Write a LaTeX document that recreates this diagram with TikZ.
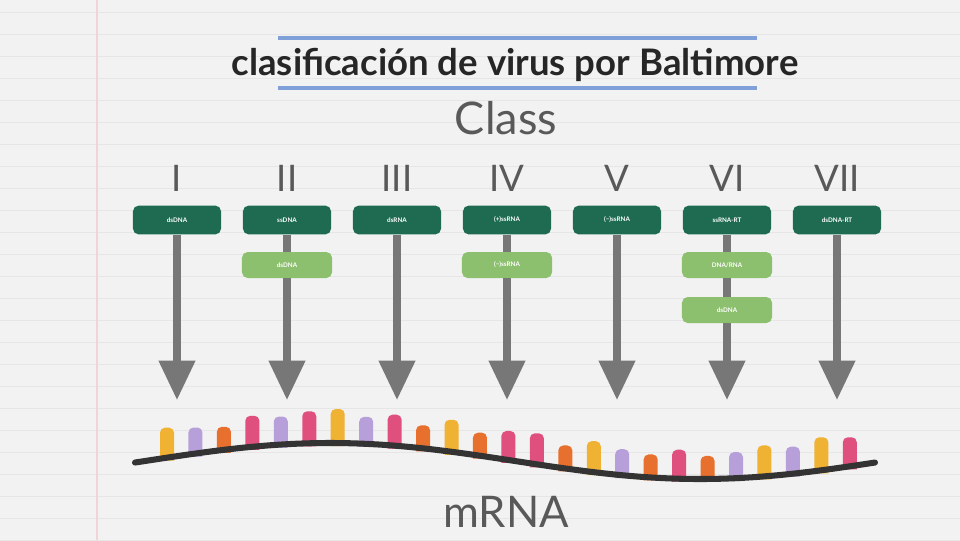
\documentclass[tikz,border=0pt]{standalone}
\usepackage{fontspec}
\setmainfont{Lato}
\usetikzlibrary{positioning,arrows.meta}
\definecolor{PaperBg}{HTML}{F2F2F2}
\definecolor{RuleLine}{HTML}{E6E6E6}
\definecolor{MarginRed}{HTML}{F0D4D6}
\definecolor{TitleBlue}{HTML}{7FA0D8}
\definecolor{LabelGray}{HTML}{595959}
\definecolor{ArrowGray}{HTML}{777777}
\definecolor{BoxDark}{HTML}{1F6B52}
\definecolor{BoxLight}{HTML}{8CBF6E}
\definecolor{BaseYel}{HTML}{F0B232}
\definecolor{BaseLav}{HTML}{B7A0DA}
\definecolor{BaseOrg}{HTML}{E8702E}
\definecolor{BasePnk}{HTML}{E0507E}
\definecolor{Strand}{HTML}{333333}
\tikzset{
  numeral/.style={text=LabelGray,font=\fontsize{26}{26}\selectfont},
  darkbox/.style={fill=BoxDark,rounded corners=4pt,minimum width=2.2cm,minimum height=0.72cm,inner sep=0pt,text=white,font=\bfseries\fontsize{4.5}{5}\selectfont},
  lightbox/.style={darkbox,fill=BoxLight,minimum width=2.25cm,minimum height=0.65cm},
  flow/.style={draw=ArrowGray,line width=5pt,-{Triangle[width=25pt,length=28pt]}},
  shaft/.style={draw=ArrowGray,line width=5pt}
}
\newcommand{\nucbase}[3]{\fill[#2,rounded corners=3.5pt] (#1-7,#3+3) -- (#1-7,#3-\bh) -- (#1+7,#3-\bh) -- (#1+7,#3+3);}

\begin{document}
\begin{tikzpicture}[x=0.025cm,y=-0.025cm]
  \useasboundingbox (0,0) rectangle (960,540);
  % notebook paper
  \fill[PaperBg] (0,0) rectangle (960,540);
  \foreach \ly in {12,34,...,540} \draw[RuleLine,line width=0.6pt] (0,\ly) -- (960,\ly);
  \draw[MarginRed,line width=2pt] (97,0) -- (97,540);
  % title
  \node[font=\bfseries\fontsize{26}{26}\selectfont,text=black!85] (title) at (515,65) {clasificación de virus por Baltimore};
  \draw[TitleBlue,line width=3pt] (278,38) -- (757,38);
  \draw[TitleBlue,line width=3pt] (278,88) -- (757,88);
  \node[text=LabelGray,font=\fontsize{32}{32}\selectfont] (class) at (506,118) {Class};
  % classes
  \foreach \r/\t [count=\i] in {I/dsDNA,II/ssDNA,III/dsRNA,IV/(+)ssRNA,V/(−)ssRNA,VI/ssRNA-RT,VII/dsDNA-RT}{
    \node[numeral] (num\r) at ({67+110*\i},178) {\r};
    \node[darkbox] (box\r) at ({67+110*\i},220) {\t};
    \coordinate (tip\r) at ({67+110*\i},400);
  }
  \node[lightbox] (lightII) at (287,265) {dsDNA};
  \node[lightbox] (lightIV) at (507,265) {(−)ssRNA};
  \node[lightbox] (lightVIa) at (727,265) {DNA/RNA};
  \node[lightbox] (lightVIb) at (727,310) {dsDNA};
  % arrows
  \foreach \r in {I,III,V,VII} \draw[flow] (box\r) -- (tip\r);
  \draw[shaft] (boxII) -- (lightII);
  \draw[flow] (lightII) -- (tipII);
  \draw[shaft] (boxIV) -- (lightIV);
  \draw[flow] (lightIV) -- (tipIV);
  \draw[shaft] (boxVI) -- (lightVIa);
  \draw[shaft] (lightVIa) -- (lightVIb);
  \draw[flow] (lightVIb) -- (tipVI);
  % mRNA strand
  \foreach \c/\h [count=\i] in {BaseYel/30,BaseLav/26,BaseOrg/23,BasePnk/31,BaseLav/28,BasePnk/32,BaseYel/34,BaseLav/27,BasePnk/31,BaseOrg/23,BaseYel/32,BaseOrg/23,BasePnk/29,BasePnk/31,BaseOrg/23,BaseYel/31,BaseLav/26,BaseOrg/23,BasePnk/29,BaseOrg/23,BaseLav/26,BaseYel/31,BaseLav/27,BaseYel/33,BasePnk/29}{
    \pgfmathsetmacro\bx{167+28.45*(\i-1)}
    \pgfmathsetmacro\by{461-18*cos((\bx-330)/370*180)}
    \def\bh{\h}
    \nucbase{\bx}{\c}{\by}
  }
  \draw[Strand,line width=4.3pt,line cap=round] plot[domain=135:875,samples=80,smooth] (\x,{461-18*cos((\x-330)/370*180)});
  \node[text=LabelGray,font=\fontsize{31}{31}\selectfont] (mrna) at (506,512) {mRNA};
\end{tikzpicture}
\end{document}
